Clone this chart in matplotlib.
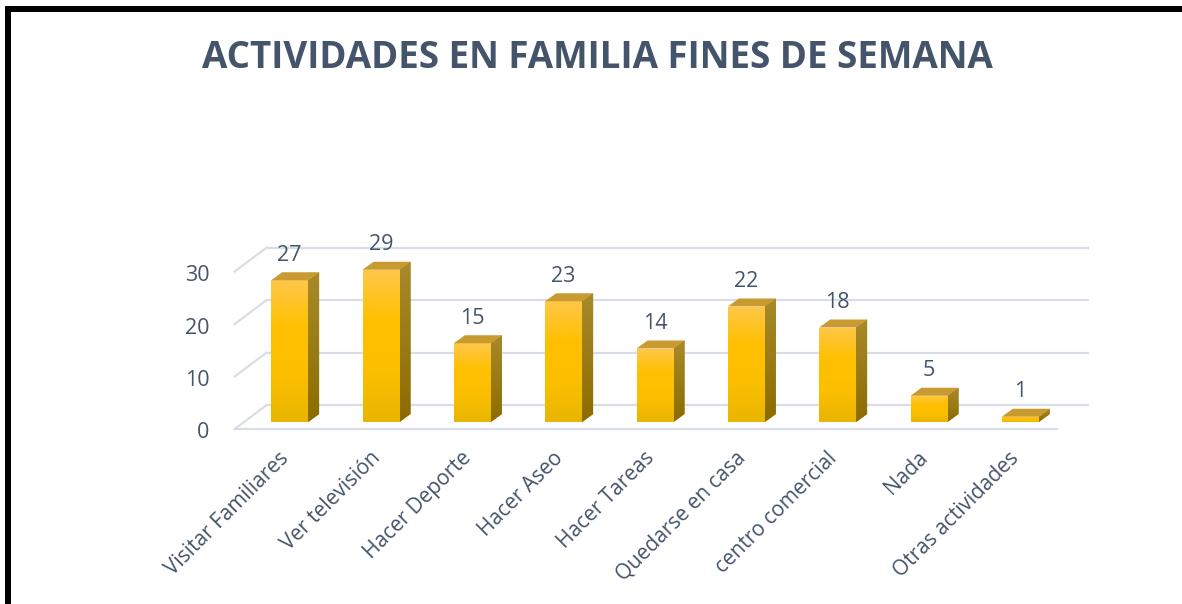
import numpy as np
import matplotlib
matplotlib.use("Agg")
import matplotlib.pyplot as plt
from matplotlib.patches import Polygon, Rectangle
from matplotlib.colors import LinearSegmentedColormap

# ---- data ----
categories = ["Visitar Familiares", "Ver televisión", "Hacer Deporte", "Hacer Aseo",
              "Hacer Tareas", "Quedarse en casa", "centro comercial", "Nada",
              "Otras actividades"]
values = [27, 29, 15, 23, 14, 22, 18, 5, 1]
yticks = [0, 10, 20, 30]
title = "ACTIVIDADES EN FAMILIA FINES DE SEMANA"

TXT = "#44546a"
GRID = "#d9dee6"
FONT = ["Open Sans", "DejaVu Sans"]

W, H, DPI = 11.82, 6.04, 100
fig = plt.figure(figsize=(W, H), dpi=DPI)
fig.patch.set_facecolor("white")

ymax = 34
px_per_unit = 5.25
left_px, right_px, base_px = 244, 1066, 422
ax = fig.add_axes([left_px / 1182, (604 - base_px) / 604,
                   (right_px - left_px) / 1182, ymax * px_per_unit / 604])
ax.set_xlim(-0.5, len(categories) - 0.5)
ax.set_ylim(0, ymax)
ax.axis("off")

p0 = ax.transData.transform((0, 0))
p1 = ax.transData.transform((1, 1))
sx = p1[0] - p0[0]
sy = p1[1] - p0[1]

def off(dxp, dyp):
    return dxp / sx, dyp / sy

front_dx, front_dy = off(-9.3, -7)
back_dx, back_dy = off(22.7, 17)
bar_dx, bar_dy = off(11, 8)

x0, x1 = -0.5, len(categories) - 0.5
for t in yticks:
    ax.plot([x0 + back_dx, x1 + back_dx], [t + back_dy, t + back_dy],
            color=GRID, lw=1.6, zorder=1, clip_on=False, solid_capstyle="butt")
    ax.plot([x0 + front_dx, x0 + back_dx], [t + front_dy, t + back_dy],
            color=GRID, lw=1.6, zorder=1, clip_on=False)
ax.plot([x0 + front_dx, x1 + front_dx], [front_dy, front_dy],
        color=GRID, lw=1.6, zorder=1, clip_on=False)

for t in yticks:
    ax.text(x0 + front_dx - 25 / sx, t + front_dy - 4 / sy, str(t), ha="right",
            va="center", fontsize=15.5, color=TXT, family=FONT, clip_on=False)

front_cmap = LinearSegmentedColormap.from_list(
    "front", ["#e8b500", "#fcbf00", "#ffc000", "#ffc74a"])
side_cmap = LinearSegmentedColormap.from_list("side", ["#8c6c00", "#a88a2a"])
grad = np.linspace(0, 1, 256).reshape(-1, 1)

bw = 37 / sx
xs = np.arange(len(categories))
bars = ax.bar(xs, values, width=bw, color="#ffc000", zorder=3, linewidth=0)
for x, v, b in zip(xs, values, bars):
    xl, xr = x - bw / 2, x + bw / 2
    im = ax.imshow(grad, cmap=front_cmap, aspect="auto", origin="lower",
                   extent=(xl, xr, 0, v), zorder=3.5, interpolation="bicubic")
    im.set_clip_path(b)
    side = Polygon([(xr, 0), (xr, v), (xr + bar_dx, v + bar_dy), (xr + bar_dx, bar_dy)],
                   closed=True, facecolor="#9a7800", edgecolor="none", zorder=3,
                   clip_on=False)
    ax.add_patch(side)
    im2 = ax.imshow(grad, cmap=side_cmap, aspect="auto", origin="lower",
                    extent=(xr, xr + bar_dx, 0, v + bar_dy), zorder=3.4,
                    interpolation="bicubic")
    im2.set_clip_path(side)
    top = Polygon([(xl, v), (xr, v), (xr + bar_dx, v + bar_dy), (xl + bar_dx, v + bar_dy)],
                  closed=True, facecolor="#c99a30", edgecolor="none", zorder=3.6,
                  clip_on=False)
    ax.add_patch(top)
    ax.text(x, v + 25 / sy, str(v), ha="center", va="center", fontsize=15.5,
            color=TXT, family=FONT, clip_on=False)

for x, c in zip(xs, categories):
    ax.text(x - 4 / sx, -33 / sy, c, rotation=45, rotation_mode="anchor",
            ha="right", va="center", fontsize=15, color=TXT, family=FONT,
            clip_on=False)

fig.text(597 / 1182, 1 - 58 / 604, title, ha="center", va="center",
         fontsize=26.5, fontweight="bold", color=TXT, family=FONT)

fig.patches.append(Rectangle((5 / 1182, 1 - 12 / 604), 1 - 5 / 1182, 6 / 604,
                             transform=fig.transFigure, facecolor="black",
                             edgecolor="none", zorder=10))
fig.patches.append(Rectangle((5 / 1182, 0), 6 / 1182, 1 - 6 / 604,
                             transform=fig.transFigure, facecolor="black",
                             edgecolor="none", zorder=10))

fig.savefig("out.png", dpi=DPI)
